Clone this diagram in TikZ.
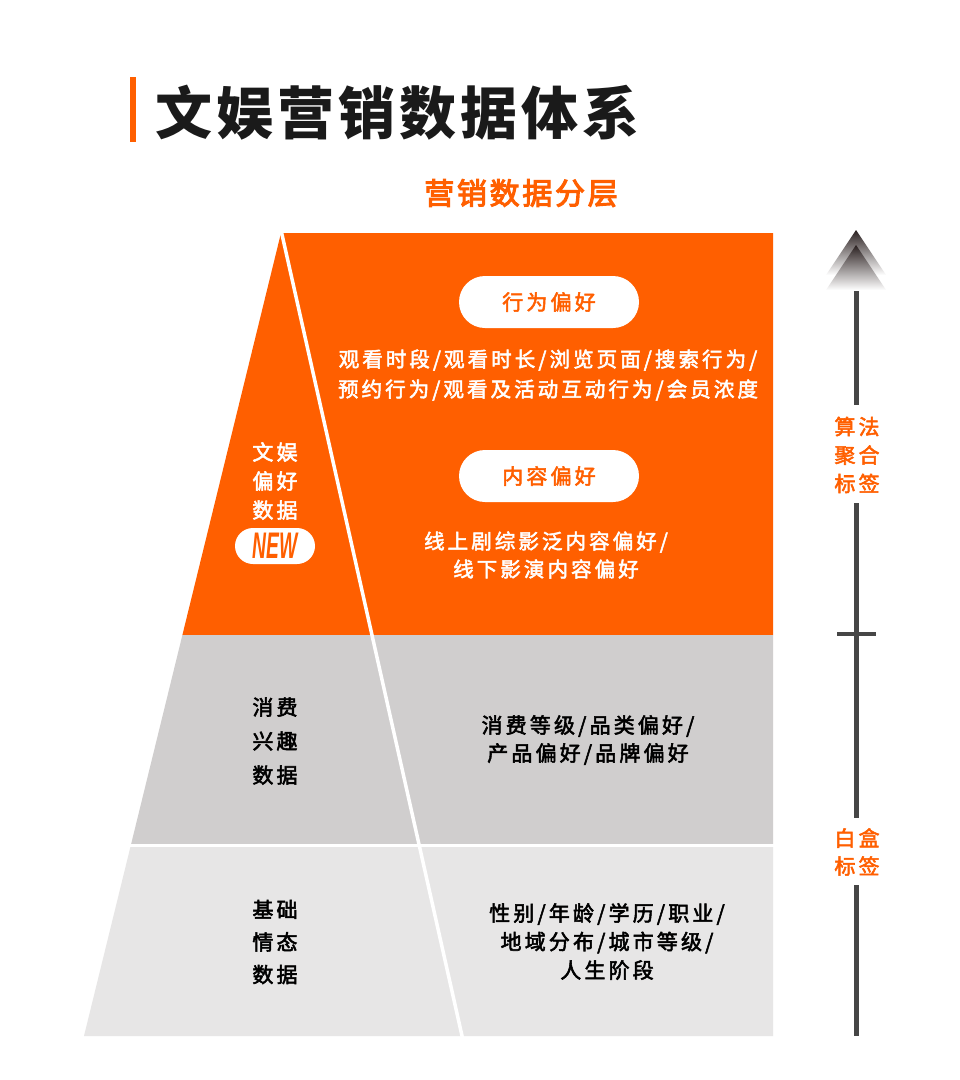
\documentclass[tikz,border=0pt]{standalone}
\usepackage{fontspec}
\newfontfamily\cjkm[LetterSpace=15,FakeBold=2.5]{Noto Sans CJK SC}
\newfontfamily\cjkt[LetterSpace=7]{Noto Sans CJK SC}
\newfontfamily\cjks[LetterSpace=9,FakeBold=3.5]{Noto Sans CJK SC}
\newfontfamily\newfnt{Liberation Sans}
\definecolor{org}{HTML}{FF5F00}
\definecolor{midgray}{HTML}{D0CECE}
\definecolor{lightgray2}{HTML}{E7E6E6}
\definecolor{axisgray}{HTML}{464646}
\definecolor{titleblack}{HTML}{1A1A1A}
\definecolor{arrdark}{HTML}{2A2020}
\tikzset{
  txt/.style={inner sep=0pt, align=center},
  whitetxt/.style={txt, text=white},
  blacktxt/.style={txt, text=black},
  orgtxt/.style={txt, text=org},
  pill/.style={fill=white, rounded corners=26pt, minimum width=180pt, minimum height=52pt, inner sep=0pt, text=org,
    font=\cjkm\fontsize{21}{21}\selectfont},
  axisline/.style={draw=axisgray, line width=5pt},
}
\begin{document}
\begin{tikzpicture}[x=1pt,y=-1pt]
\useasboundingbox (0,0) rectangle (960,1080);
\fill[white] (0,0) rectangle (960,1080);

% title
\fill[org] (130,77) rectangle (136,142);
\node[txt, anchor=west, text=titleblack, font=\cjkt\bfseries\fontsize{57}{57}\selectfont] (title) at (155,113) {文娱营销数据体系};
\node[orgtxt, font=\cjks\fontsize{30}{30}\selectfont] (subtitle) at (521,193) {营销数据分层};

% pyramid bands
\fill[org] (281,233) -- (773,233) -- (773,635) -- (182.4,635) -- cycle;
\fill[midgray] (182.4,635) -- (773,635) -- (773,845) -- (130.9,845) -- cycle;
\fill[lightgray2] (130.9,845) -- (773,845) -- (773,1036) -- (84,1036) -- cycle;
\draw[white, line width=3pt] (128,845) -- (775,845);
\draw[white, line width=3.5pt] (281,230) -- (462.5,1038);

% orange band content
\node[pill] (pill1) at (549,302) {行为偏好};
\node[whitetxt, font=\cjkm\fontsize{20.5}{30}\selectfont] (body1) at (548,375) {观看时段/观看时长/浏览页面/搜索行为/\\预约行为/观看及活动互动行为/会员浓度};
\node[pill] (pill2) at (549,476) {内容偏好};
\node[whitetxt, font=\cjkm\fontsize{20.5}{28}\selectfont] (body2) at (546,555) {线上剧综影泛内容偏好/\\线下影演内容偏好};
\node[whitetxt, font=\cjkm\fontsize{21}{29}\selectfont] (lab1) at (275,481) {文娱\\偏好\\数据};
\node[fill=white, rounded corners=18pt, minimum width=80pt, minimum height=36pt, inner sep=0pt] (newpill) at (275,546) {};
\node[inner sep=0pt, text=org, font=\newfnt\bfseries\itshape\fontsize{37}{37}\selectfont, xscale=0.52, transform shape] (newtxt) at (newpill.center) {NEW};

% gray band content
\node[blacktxt, font=\cjkm\fontsize{21}{34}\selectfont] (lab2) at (275,741) {消费\\兴趣\\数据};
\node[blacktxt, font=\cjkm\fontsize{21}{28}\selectfont] (body3) at (588,740) {消费等级/品类偏好/\\产品偏好/品牌偏好};

% light band content
\node[blacktxt, font=\cjkm\fontsize{21}{32.5}\selectfont] (lab3) at (275,942) {基础\\情态\\数据};
\node[blacktxt, font=\cjkm\fontsize{21}{28.5}\selectfont] (body4) at (607,941.5) {性别/年龄/学历/职业/\\地域分布/城市等级/\\人生阶段};

% right axis
\shade[top color=arrdark, bottom color=white] (856,230) -- (886,275) -- (826,275) -- cycle;
\shade[top color=arrdark, bottom color=white] (856,245) -- (886,290) -- (826,290) -- cycle;
\node[orgtxt, font=\cjkm\fontsize{21}{28.5}\selectfont] (algo) at (857,455) {算法\\聚合\\标签};
\node[orgtxt, font=\cjkm\fontsize{21}{28}\selectfont] (wbox) at (857,852) {白盒\\标签};
\coordinate (ax0) at (856,291);
\coordinate (ax1) at (856,405);
\coordinate (ax2) at (856,503);
\coordinate (ax3) at (856,818);
\coordinate (ax4) at (856,885);
\coordinate (ax5) at (856,1036);
\coordinate (tickL) at (837,634);
\coordinate (tickR) at (876,634);
\draw[axisline] (ax0) -- (ax1);
\draw[axisline] (ax2) -- (ax3);
\draw[axisline] (ax4) -- (ax5);
\draw[draw=axisgray, line width=4pt] (tickL) -- (tickR);
\end{tikzpicture}
\end{document}
